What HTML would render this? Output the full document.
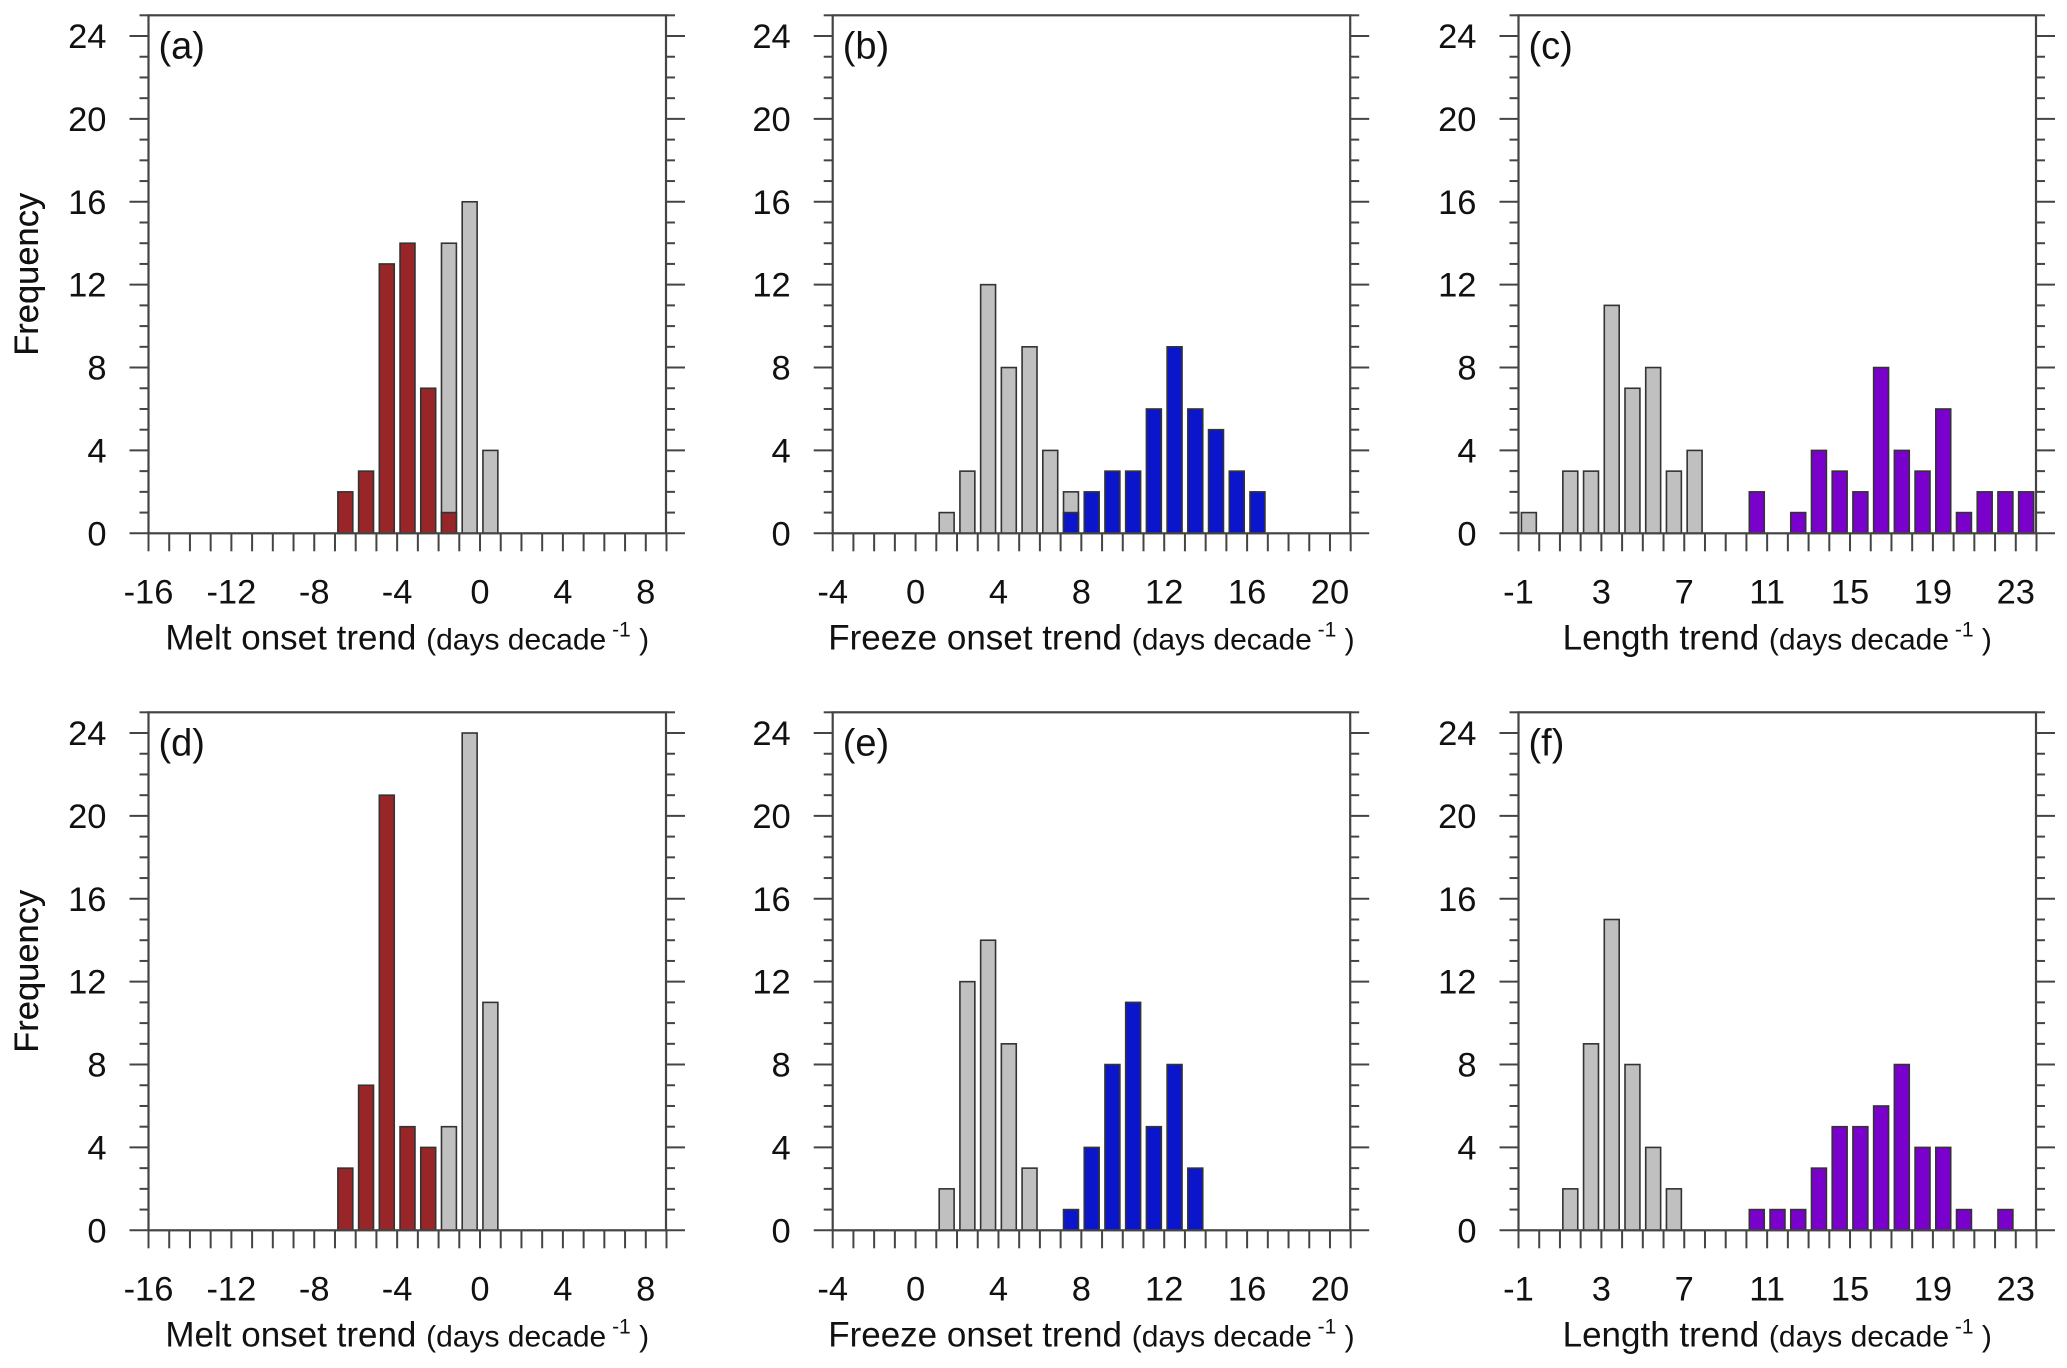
<!DOCTYPE html>
<html><head><meta charset="utf-8"><style>
html,body{margin:0;padding:0;background:#fff;}
svg{display:block;font-family:"Liberation Sans",Arial,sans-serif;}
</style></head>
<body>
<svg id="fig" width="2067" height="1368" viewBox="0 0 2067 1368" xmlns="http://www.w3.org/2000/svg"></svg>
<script>
// ---- data (bin left edges and counts) ----
const aGrayBins=[-2,-1,0];            const aGrayVals=[14,16,4];
const aColBins=[-7,-6,-5,-4,-3,-2];   const aColVals=[2,3,13,14,7,1];
const bGrayBins=[1,2,3,4,5,6,7];      const bGrayVals=[1,3,12,8,9,4,2];
const bColBins=[7,8,9,10,11,12,13,14,15,16]; const bColVals=[1,2,3,3,6,9,6,5,3,2];
const cGrayBins=[-1,1,2,3,4,5,6,7];   const cGrayVals=[1,3,3,11,7,8,3,4];
const cColBins=[10,12,13,14,15,16,17,18,19,20,21,22,23]; const cColVals=[2,1,4,3,2,8,4,3,6,1,2,2,2];
const dGrayBins=[-2,-1,0];            const dGrayVals=[5,24,11];
const dColBins=[-7,-6,-5,-4,-3];      const dColVals=[3,7,21,5,4];
const eGrayBins=[1,2,3,4,5];          const eGrayVals=[2,12,14,9,3];
const eColBins=[7,8,9,10,11,12,13];   const eColVals=[1,4,8,11,5,8,3];
const fGrayBins=[1,2,3,4,5,6];        const fGrayVals=[2,9,15,8,4,2];
const fColBins=[10,11,12,13,14,15,16,17,18,19,20,22]; const fColVals=[1,1,1,3,5,5,6,8,4,4,1,1];
const yTicks=[0,4,8,12,16,20,24];
const meltTicks=[-16,-12,-8,-4,0,4,8];
const freezeTicks=[-4,0,4,8,12,16,20];
const lengthTicks=[-1,3,7,11,15,19,23];
const panelLetters=["(a)","(b)","(c)","(d)","(e)","(f)"];
const xTitles=["Melt onset trend","Freeze onset trend","Length trend"];

const NS="http://www.w3.org/2000/svg";
const svg=document.getElementById('fig');
function mk(tag,attrs,parent){const e=document.createElementNS(NS,tag);for(const k in attrs)e.setAttribute(k,attrs[k]);(parent||svg).appendChild(e);return e;}

const colLeft=[148.5,832.7,1518.5];
const rowY0=[533.3,1230.3];
const W=517.5, UNIT=20.72, YMAX=25;
const xMins=[-16,-4,-1];
const xTickSets=[meltTicks,freezeTicks,lengthTicks];
const colColors=["#982528","#0b16cc","#7a00cc"];
const panels=[
 [aGrayBins,aGrayVals,aColBins,aColVals],[bGrayBins,bGrayVals,bColBins,bColVals],[cGrayBins,cGrayVals,cColBins,cColVals],
 [dGrayBins,dGrayVals,dColBins,dColVals],[eGrayBins,eGrayVals,eColBins,eColVals],[fGrayBins,fGrayVals,fColBins,fColVals]];

panels.forEach((p,i)=>{
  const col=i%3,row=Math.floor(i/3);
  const L=colLeft[col],Y0=rowY0[row],T=Y0-YMAX*UNIT,R=L+W;
  const xmin=xMins[col];
  const xs=v=>L+(v-xmin)*UNIT;
  const ys=v=>Y0-v*UNIT;
  const g=mk('g',{});
  
  
  const drawBars=(bins,vals,fill,name)=>{
    bins.forEach((b,k)=>{
      const cx=xs(b+0.5),bw=0.72*UNIT;
      const r=mk('rect',{x:cx-bw/2,y:ys(vals[k]),width:bw,height:Y0-ys(vals[k]),fill:fill,stroke:'#333','stroke-width':1.6},g);
      
      
    });
  };
  drawBars(p[0],p[1],'#c0c0c0','gray');
  drawBars(p[2],p[3],colColors[col],'highlight');
  const fr=mk('rect',{x:L,y:T,width:W,height:Y0-T,fill:'none',stroke:'#444','stroke-width':2.2},g);
  
  
  for(let v=0;v<=25;v++){
    const major=v%4===0, len=major?19:9;
    mk('line',{x1:L-len,x2:L,y1:ys(v),y2:ys(v),stroke:'#444','stroke-width':2},g);
    mk('line',{x1:R,x2:R+len,y1:ys(v),y2:ys(v),stroke:'#444','stroke-width':2},g);
  }
  yTicks.forEach(v=>{
    const t=mk('text',{x:L-42,y:ys(v)+12,'text-anchor':'end','font-size':34.5,fill:'#111'},g);
    t.textContent=v;
    
    
  });
  for(let v=xmin;v<=xmin+25;v++){
    mk('line',{x1:xs(v),x2:xs(v),y1:Y0,y2:Y0+18,stroke:'#444','stroke-width':2},g);
  }
  xTickSets[col].forEach(v=>{
    const t=mk('text',{x:xs(v),y:Y0+70,'text-anchor':'middle','font-size':34.5,fill:'#111'},g);
    t.textContent=v;
    
    
  });
  const pl=mk('text',{x:L+10,y:T+43,'font-size':38,fill:'#111'},g);
  pl.textContent=panelLetters[i];
  
  
  const yt=mk('text',{x:0,y:0,'text-anchor':'middle','font-size':34.5,fill:'#111',transform:`translate(38,${(T+Y0)/2}) rotate(-90)`},g);
  yt.textContent='Frequency';
  
  
  const xt=mk('text',{x:L+W/2,y:Y0+116,'text-anchor':'middle','font-size':35,fill:'#111'},g);
  
  
  const s1=mk('tspan',{},xt); s1.textContent=xTitles[col]+' ';
  const s2=mk('tspan',{'font-size':30},xt); s2.textContent='(days decade';
  const s3=mk('tspan',{'font-size':21,dy:-13},xt); s3.textContent=' -1';
  const s4=mk('tspan',{'font-size':30,dy:13},xt); s4.textContent=' )';
});
</script>
</body></html>
